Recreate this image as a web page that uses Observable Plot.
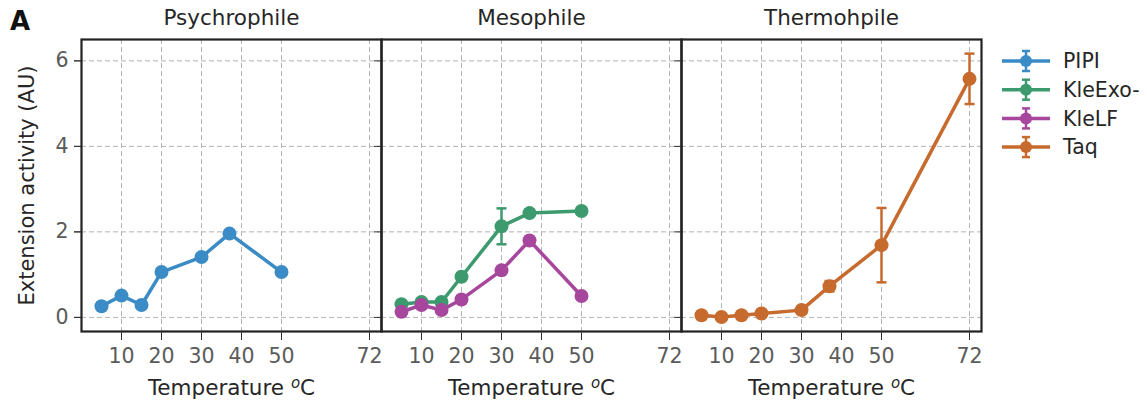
<!DOCTYPE html>
<html><head><meta charset="utf-8">
<script src="https://cdn.jsdelivr.net/npm/d3@7"></script>
<script src="https://cdn.jsdelivr.net/npm/@observablehq/plot@0.6"></script>
<style>
body{margin:0;background:#fff;font-family:"DejaVu Sans",sans-serif}
#wrap{position:relative;width:1147px;height:406px;overflow:hidden}
#panelLetter{position:absolute;left:10px;top:6px;font:bold 26px "DejaVu Sans",sans-serif;color:#111;line-height:30px}
#legend{position:absolute;left:999px;top:40px}
</style>
</head><body><div id="wrap"><div id="panelLetter">A</div><div id="legend"></div></div>
<script>
const panels = ["Psychrophile", "Mesophile", "Thermohpile"];
const seriesNames = ["PIPI", "KleExo-", "KleLF", "Taq"];
const seriesPanel = ["Psychrophile", "Mesophile", "Mesophile", "Thermohpile"];
const seriesColors = ["#3a8bc6", "#3d9a6e", "#a7469d", "#c66a2e"];
const temps = [5, 10, 15, 20, 30, 37, 50, 72];
const pipiValues   = [0.26, 0.51, 0.29, 1.06, 1.41, 1.96, 1.06];
const pipiErrors   = [0.04, 0.05, 0.04, 0.06, 0.06, 0.08, 0.06];
const kleExoValues = [0.31, 0.36, 0.36, 0.95, 2.13, 2.44, 2.49];
const kleExoErrors = [0.04, 0.04, 0.05, 0.08, 0.42, 0.08, 0.07];
const kleLFValues  = [0.13, 0.29, 0.17, 0.42, 1.10, 1.80, 0.50];
const kleLFErrors  = [0.03, 0.04, 0.03, 0.05, 0.07, 0.08, 0.05];
const taqValues    = [0.05, 0.01, 0.05, 0.09, 0.17, 0.73, 1.69, 5.58];
const taqErrors    = [0.03, 0.03, 0.03, 0.04, 0.05, 0.12, 0.87, 0.59];
const xTicks = [10, 20, 30, 40, 50, 72];
const yTicks = [0, 2, 4, 6];
const xLabel = "Temperature oC";
const yLabel = "Extension activity (AU)";

const seriesValues = [pipiValues, kleExoValues, kleLFValues, taqValues];
const seriesErrors = [pipiErrors, kleExoErrors, kleLFErrors, taqErrors];

const rowsBySeries = seriesNames.map((name, i) =>
  seriesValues[i].map((v, j) => ({
    series: name, panel: seriesPanel[i], temp: temps[j], value: v, err: seriesErrors[i][j]
  }))
);

const capSymbol = {
  draw(context, size) {
    const w = Math.sqrt(size / Math.PI);
    context.moveTo(-w, 0);
    context.lineTo(w, 0);
  }
};

const font = "DejaVu Sans";
const seriesMarks = [];
rowsBySeries.forEach((rows, i) => {
  const c = seriesColors[i];
  seriesMarks.push(
    Plot.line(rows, {x: "temp", y: "value", fx: "panel", stroke: c, strokeWidth: 3.5, strokeLinejoin: "round", strokeLinecap: "round"}),
    Plot.ruleX(rows, {x: "temp", y1: d => d.value - d.err, y2: d => d.value + d.err, fx: "panel", stroke: c, strokeWidth: 2.5}),
    Plot.dot(rows, {x: "temp", y: d => d.value - d.err, fx: "panel", symbol: capSymbol, r: 5, stroke: c, strokeWidth: 2.5, fill: "none"}),
    Plot.dot(rows, {x: "temp", y: d => d.value + d.err, fx: "panel", symbol: capSymbol, r: 5, stroke: c, strokeWidth: 2.5, fill: "none"}),
    Plot.dot(rows, {x: "temp", y: "value", fx: "panel", r: 7, fill: c, stroke: "none"})
  );
});

const chart = Plot.plot({
  width: 1147,
  height: 406,
  marginLeft: 81,
  marginRight: 166,
  marginTop: 39,
  marginBottom: 75,
  style: {fontFamily: font, background: "#fff"},
  fx: {domain: panels, padding: 0, axis: null},
  x: {domain: [0, 75]},
  y: {domain: [-0.33, 6.5]},
  marks: [
    Plot.gridX({ticks: xTicks, stroke: "#b3b3b3", strokeOpacity: 1, strokeWidth: 1, strokeDasharray: "5,3"}),
    Plot.gridY({ticks: yTicks, stroke: "#b3b3b3", strokeOpacity: 1, strokeWidth: 1, strokeDasharray: "5,3"}),
    ...seriesMarks,
    Plot.frame({stroke: "#222", strokeWidth: 2.2}),
    Plot.axisX({ticks: xTicks, tickFormat: d => String(d), tickSize: 9, tickPadding: 8, fontSize: 20.5, fill: "#5a5a5a", stroke: "#333", label: null}),
    Plot.axisY({ticks: yTicks, tickFormat: d => String(d), tickSize: 7, tickPadding: 6, fontSize: 20.5, fill: "#5a5a5a", stroke: "#333", label: null}),
    Plot.axisY({ticks: yTicks, tickSize: 7, tickFormat: () => "", stroke: "#333", label: null, facetAnchor: null}),
    Plot.text(panels, {fx: d => d, text: d => d, frameAnchor: "top", lineAnchor: "middle", dy: -21, fontSize: 21.5, fill: "#262626"}),
    Plot.text(panels, {fx: d => d, text: () => xLabel, frameAnchor: "bottom", lineAnchor: "middle", dy: 57, fontSize: 21.5, fill: "#262626"}),
    Plot.text([panels[0]], {fx: d => d, text: () => yLabel, frameAnchor: "left", textAnchor: "middle", rotate: -90, dx: -54, fontSize: 21, fill: "#262626"})
  ]
});

d3.select(chart).selectAll("text").filter(function() { return this.textContent === xLabel; })
  .each(function() {
    const t = d3.select(this);
    t.text(null);
    t.append("tspan").text("Temperature ");
    t.append("tspan").attr("font-size", 15).attr("font-style", "italic").attr("dy", "-0.5em").text("o");
    t.append("tspan").attr("dy", "0.35em").text("C");
  });

const wrap = document.getElementById("wrap");
wrap.insertBefore(chart, wrap.firstChild);

// legend: one SVG, rows at fixed spacing
const legendSvg = d3.select("#legend").append("svg")
  .attr("width", 148).attr("height", 125)
  .style("font-family", font).style("display", "block");
seriesNames.forEach((name, i) => {
  const c = seriesColors[i];
  const cy = 21 + i * 28.7;
  const g = legendSvg.append("g");
  g.append("line").attr("x1", 3).attr("x2", 51).attr("y1", cy).attr("y2", cy).attr("stroke", c).attr("stroke-width", 3.5);
  g.append("line").attr("x1", 27).attr("x2", 27).attr("y1", cy - 10).attr("y2", cy + 10).attr("stroke", c).attr("stroke-width", 2.5);
  g.append("line").attr("x1", 23).attr("x2", 31).attr("y1", cy - 10).attr("y2", cy - 10).attr("stroke", c).attr("stroke-width", 2.5);
  g.append("line").attr("x1", 23).attr("x2", 31).attr("y1", cy + 10).attr("y2", cy + 10).attr("stroke", c).attr("stroke-width", 2.5);
  g.append("circle").attr("cx", 27).attr("cy", cy).attr("r", 6).attr("fill", c);
  g.append("text").attr("x", 64).attr("y", cy).attr("dy", "0.35em")
    .attr("font-size", 20.5).attr("fill", "#262626").text(name);
});
</script>
</body></html>
